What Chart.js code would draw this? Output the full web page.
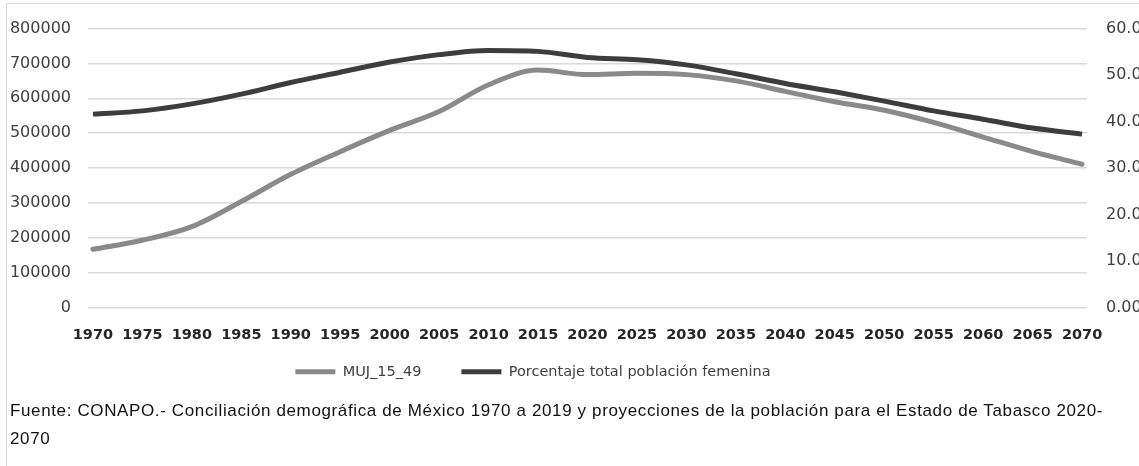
<!DOCTYPE html>
<html>
<head>
<meta charset="utf-8">
<script src="https://cdn.jsdelivr.net/npm/chart.js@4.4.1/dist/chart.umd.min.js"></script>
<style>
  html, body { margin: 0; padding: 0; background: #fff; overflow: hidden; }
  body { width: 1139px; height: 466px; position: relative; }
  #frame { position: absolute; left: 6px; top: 3px; width: 1200px; height: 500px;
           border-left: 1px solid #d9d9d9; border-top: 1px solid #d9d9d9; }
  #wrap { position: absolute; left: 0; top: 0; width: 1170px; height: 419px; }
  #fuente { position: absolute; left: 10px; top: 397px; font-family: "Liberation Sans", Arial, sans-serif;
            font-size: 17px; letter-spacing: 0.63px; line-height: 28px; color: #111; }
</style>
</head>
<body>
<div id="frame"></div>
<div id="wrap"><canvas id="myChart"></canvas></div>
<div id="fuente">Fuente: CONAPO.- Conciliación demográfica de México 1970 a 2019 y proyecciones de la población para el Estado de Tabasco 2020-<br>2070</div>
<script>
// years shown on the x axis (every 5 years)
var years = [1970, 1975, 1980, 1985, 1990, 1995, 2000, 2005, 2010, 2015, 2020,
             2025, 2030, 2035, 2040, 2045, 2050, 2055, 2060, 2065, 2070];

// MUJ_15_49 (left axis)
var muj_15_49 = [167000, 193000, 232000, 304000, 382000, 447000, 508000, 562000, 639000, 681000, 668000,
                 672000, 668000, 650000, 620000, 590000, 566000, 531000, 489000, 447000, 411000];

// Porcentaje total poblacion femenina (right axis)
var porcentaje = [41.6, 42.3, 43.8, 45.9, 48.4, 50.6, 52.8, 54.4, 55.3, 55.1, 53.8,
                  53.3, 52.2, 50.3, 48.2, 46.4, 44.4, 42.3, 40.5, 38.6, 37.3];

var labelMuj = 'MUJ_15_49';
var labelPct = 'Porcentaje total población femenina';

function toPoints(vals) {
    return years.map(function (y, i) { return { x: y, y: vals[i] }; });
}

// move the legend a bit left and up, like in the original
var moveLegend = {
    id: 'moveLegend',
    afterLayout: function (chart) {
        chart.legend.left -= 52;
        chart.legend.right -= 52;
        chart.legend.top -= 30;
        chart.legend.bottom -= 30;
    }
};

var ctx = document.getElementById('myChart').getContext('2d');
var myChart = new Chart(ctx, {
    type: 'line',
    data: {
        datasets: [{
            label: labelMuj,
            data: toPoints(muj_15_49),
            borderColor: '#8a8a8a',
            backgroundColor: '#8a8a8a',
            borderWidth: 5,
            pointRadius: 0,
            cubicInterpolationMode: 'monotone',
            borderCapStyle: 'round',
            yAxisID: 'y'
        }, {
            label: labelPct,
            data: toPoints(porcentaje),
            borderColor: '#3d3d3d',
            backgroundColor: '#3d3d3d',
            borderWidth: 5,
            pointRadius: 0,
            cubicInterpolationMode: 'monotone',
            yAxisID: 'y2'
        }]
    },
    options: {
        responsive: true,
        maintainAspectRatio: false,
        animation: false,
        layout: {
            padding: { left: 0, right: 0, top: 22, bottom: 0 }
        },
        plugins: {
            tooltip: { enabled: false },
            legend: {
                position: 'bottom',
                labels: {
                    color: '#404040',
                    font: { family: 'DejaVu Sans', size: 14.5 },
                    boxWidth: 40,
                    boxHeight: 5,
                    padding: 40,
                    generateLabels: function (chart) {
                        return Chart.defaults.plugins.legend.labels.generateLabels(chart).map(function (l) {
                            l.lineWidth = 0;
                            return l;
                        });
                    }
                }
            }
        },
        scales: {
            x: {
                type: 'linear',
                min: 1969.5,
                max: 2070.5,
                grid: { display: false, drawTicks: false },
                border: { display: false },
                afterBuildTicks: function (scale) {
                    scale.ticks = years.map(function (y) { return { value: y }; });
                },
                afterFit: function (scale) { scale.height = 47; },
                ticks: {
                    padding: 19,
                    autoSkip: false,
                    maxRotation: 0,
                    color: '#262626',
                    font: { family: 'DejaVu Sans', size: 14.5, weight: 'bold' },
                    callback: function (v) { return String(v); }
                }
            },
            y: {
                position: 'left',
                min: 0,
                max: 800000,
                grid: { color: '#d9d9d9', lineWidth: 1.5, drawTicks: false },
                border: { display: false },
                afterFit: function (scale) { scale.width = 88; },
                ticks: {
                    stepSize: 100000,
                    padding: 17,
                    color: '#404040',
                    font: { family: 'DejaVu Sans', size: 16 },
                    callback: function (v) { return String(v); }
                }
            },
            y2: {
                position: 'right',
                min: 0,
                max: 60,
                grid: { display: false, drawTicks: false },
                border: { display: false },
                afterFit: function (scale) { scale.width = 83; },
                ticks: {
                    stepSize: 10,
                    padding: 19,
                    color: '#404040',
                    font: { family: 'DejaVu Sans', size: 16 },
                    callback: function (v) { return v.toFixed(2); }
                }
            }
        }
    },
    plugins: [moveLegend]
});
</script>
</body>
</html>
